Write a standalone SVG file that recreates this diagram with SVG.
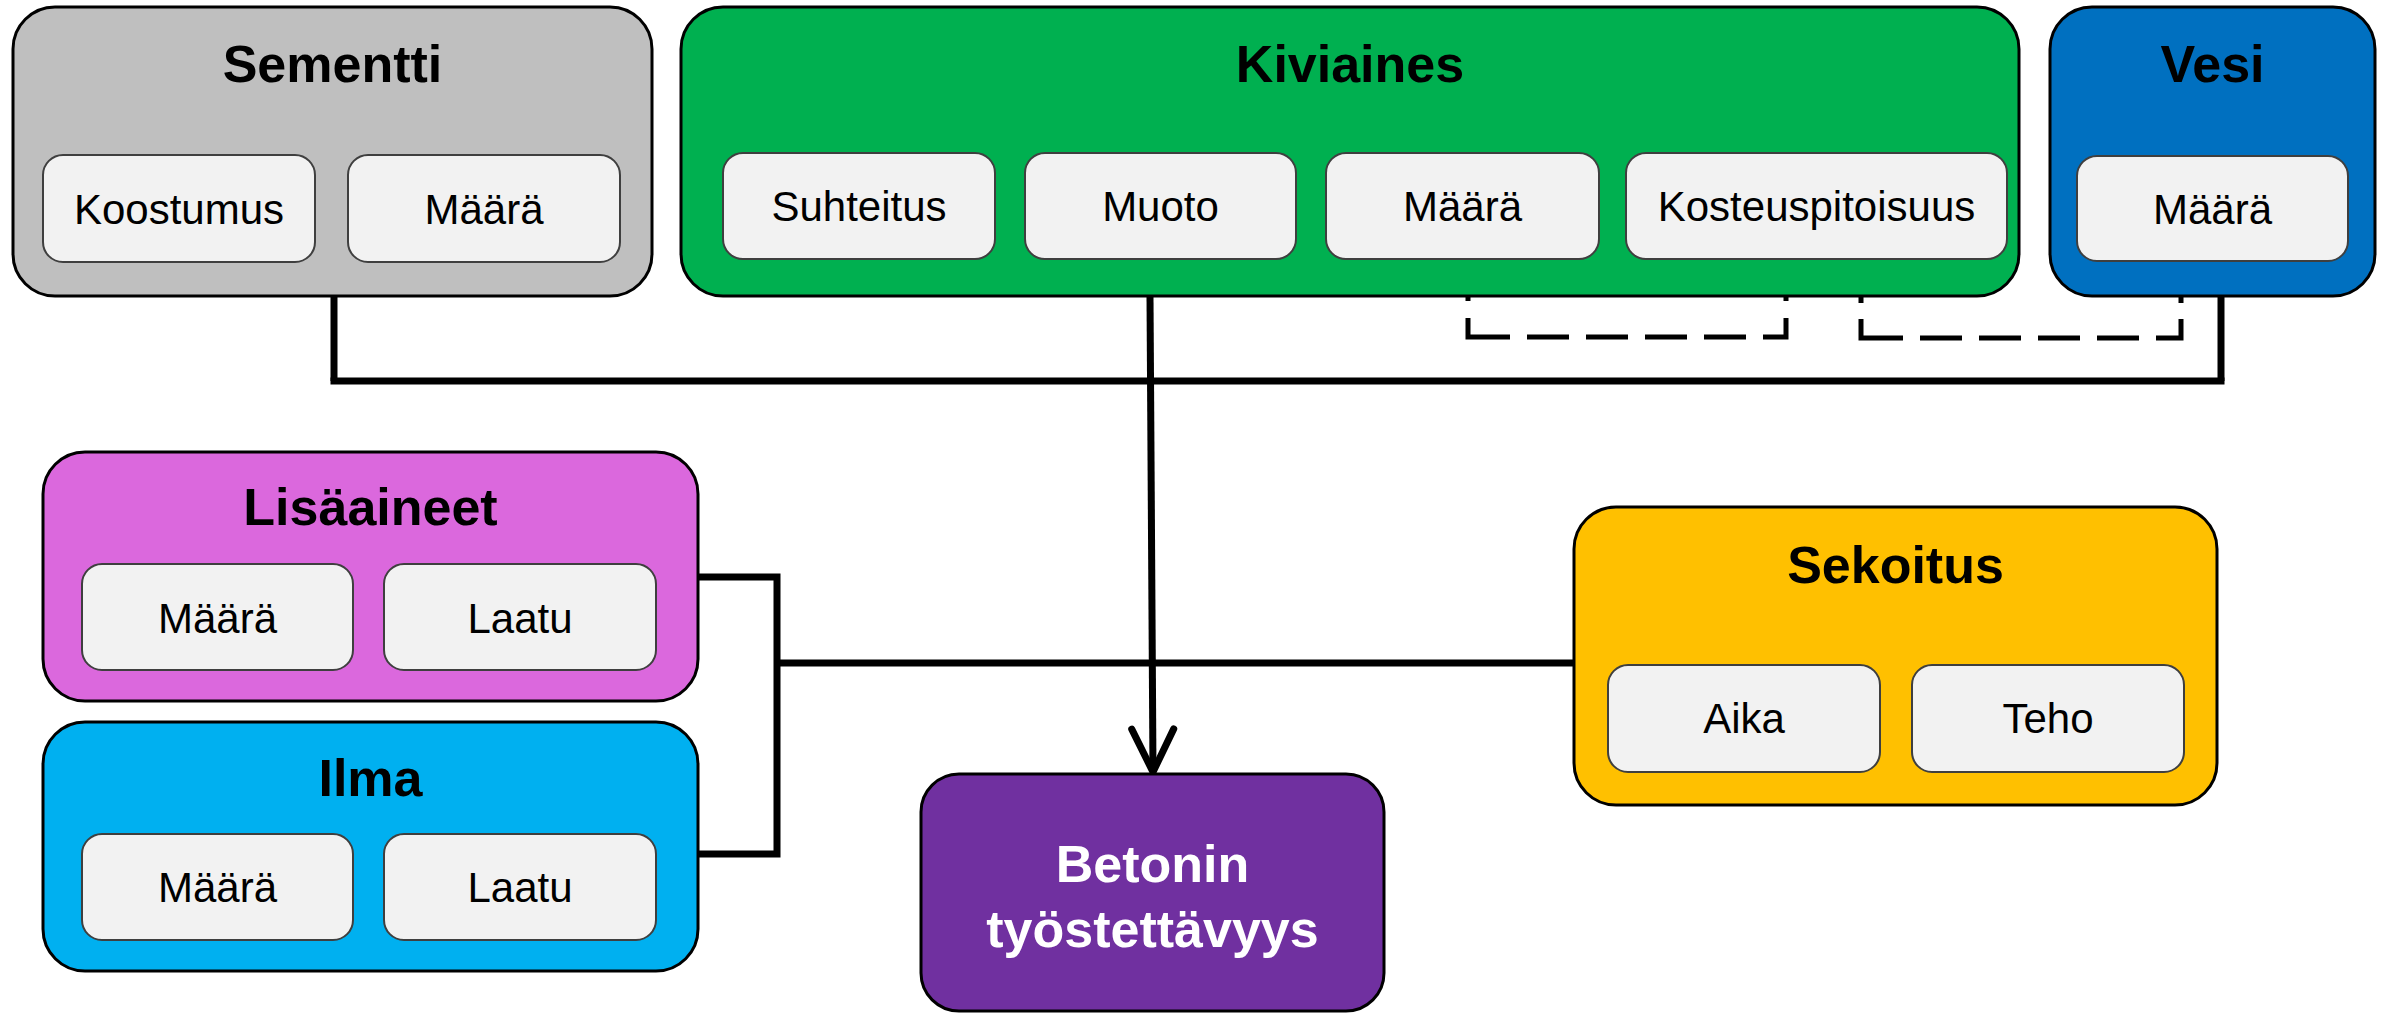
<svg xmlns="http://www.w3.org/2000/svg" width="2389" height="1013" viewBox="0 0 2389 1013">
<style>
.grp{stroke:#000;stroke-width:3}
.sub{fill:#f2f2f2;stroke:#3f3f3f;stroke-width:2}
.title{font-family:"Liberation Sans",Arial,sans-serif;font-weight:bold;font-size:52px;text-anchor:middle;fill:#000}
.lbl{font-family:"Liberation Sans",Arial,sans-serif;font-size:42px;text-anchor:middle;fill:#000}
.wt{fill:#fff}
.conn{fill:none;stroke:#000;stroke-width:7}
.dash{fill:none;stroke:#000;stroke-width:5}
</style>
<defs>
<marker id="arr" markerUnits="userSpaceOnUse" markerWidth="60" markerHeight="60" refX="0" refY="0" orient="auto" viewBox="-50 -30 60 60" overflow="visible">
<path d="M-43,-21 L0,0 L-43,21" fill="none" stroke="#000" stroke-width="7" stroke-linecap="round" stroke-linejoin="miter"/>
</marker>
</defs>
<rect width="2389" height="1013" fill="#fff"/>

<g id="connectors">
<path class="conn" d="M334,297 V381"/>
<path class="conn" d="M2221,297 V381"/>
<path class="conn" d="M330.5,381 H2224.5"/>
<path class="conn" d="M698,577 H777 V854 H698"/>
<path class="conn" d="M777,663 H1574"/>
<path class="conn" d="M1150,297 L1153,772" marker-end="url(#arr)"/>
<path class="dash" d="M1468,258 V301 M1786,258 V301"/>
<path class="dash" d="M1468,318 V337 H1786 V318" stroke-dasharray="61 17 42 17 42 17 42 17 42 17 42"/>
<path class="dash" d="M1861,261 V303 M2181,261 V303"/>
<path class="dash" d="M1861,319 V338 H2181 V319" stroke-dasharray="61 17 42 17 42 17 42 17 42 17 44"/>
</g>

<g id="sementti">
<rect class="grp" x="13" y="7" width="639" height="289" rx="42" fill="#bfbfbf"/>
<text class="title" x="332.5" y="82">Sementti</text>
<rect class="sub" x="43" y="155" width="272" height="107" rx="20"/>
<text class="lbl" x="179" y="224">Koostumus</text>
<rect class="sub" x="348" y="155" width="272" height="107" rx="20"/>
<text class="lbl" x="484" y="224">Määrä</text>
</g>

<g id="kiviaines">
<rect class="grp" x="681" y="7" width="1338" height="289" rx="42" fill="#00b050"/>
<text class="title" x="1350" y="82">Kiviaines</text>
<rect class="sub" x="723" y="153" width="272" height="106" rx="20"/>
<text class="lbl" x="859" y="221">Suhteitus</text>
<rect class="sub" x="1025" y="153" width="271" height="106" rx="20"/>
<text class="lbl" x="1160.5" y="221">Muoto</text>
<rect class="sub" x="1326" y="153" width="273" height="106" rx="20"/>
<text class="lbl" x="1462.5" y="221">Määrä</text>
<rect class="sub" x="1626" y="153" width="381" height="106" rx="20"/>
<text class="lbl" x="1816.5" y="221">Kosteuspitoisuus</text>
</g>

<g id="vesi">
<rect class="grp" x="2050" y="7" width="325" height="289" rx="42" fill="#0070c0"/>
<text class="title" x="2212.5" y="82">Vesi</text>
<rect class="sub" x="2077" y="156" width="271" height="105" rx="20"/>
<text class="lbl" x="2212.5" y="224">Määrä</text>
</g>

<g id="lisaaineet">
<rect class="grp" x="43" y="452" width="655" height="249" rx="42" fill="#db68dd"/>
<text class="title" x="370.5" y="525">Lisäaineet</text>
<rect class="sub" x="82" y="564" width="271" height="106" rx="20"/>
<text class="lbl" x="217.5" y="633">Määrä</text>
<rect class="sub" x="384" y="564" width="272" height="106" rx="20"/>
<text class="lbl" x="520" y="633">Laatu</text>
</g>

<g id="ilma">
<rect class="grp" x="43" y="722" width="655" height="249" rx="42" fill="#00b0f0"/>
<text class="title" x="370.5" y="796">Ilma</text>
<rect class="sub" x="82" y="834" width="271" height="106" rx="20"/>
<text class="lbl" x="217.5" y="902">Määrä</text>
<rect class="sub" x="384" y="834" width="272" height="106" rx="20"/>
<text class="lbl" x="520" y="902">Laatu</text>
</g>

<g id="sekoitus">
<rect class="grp" x="1574" y="507" width="643" height="298" rx="42" fill="#ffc000"/>
<text class="title" x="1895.5" y="583">Sekoitus</text>
<rect class="sub" x="1608" y="665" width="272" height="107" rx="20"/>
<text class="lbl" x="1744" y="733">Aika</text>
<rect class="sub" x="1912" y="665" width="272" height="107" rx="20"/>
<text class="lbl" x="2048" y="733">Teho</text>
</g>

<g id="betonin">
<rect class="grp" x="921" y="774" width="463" height="237" rx="38" fill="#7030a0"/>
<text class="title wt" x="1152.5" y="882">Betonin</text>
<text class="title wt" x="1152.5" y="947">työstettävyys</text>
</g>
</svg>
